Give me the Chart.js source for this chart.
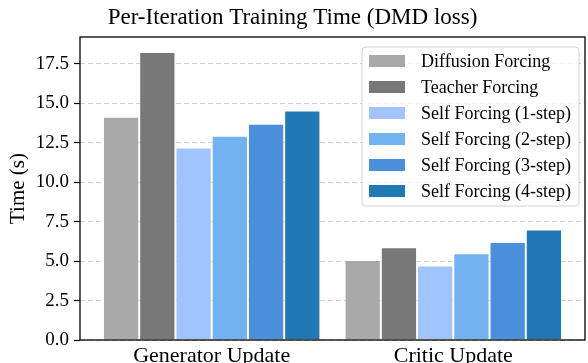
<!DOCTYPE html>
<html>
<head>
<meta charset="utf-8">
<script src="https://cdn.jsdelivr.net/npm/chart.js@4"></script>
<style>
  html, body { margin: 0; padding: 0; background: #fff; overflow: hidden; }
  #wrap { position: relative; width: 588px; height: 380px; }
</style>
</head>
<body>
<div id="wrap"><canvas id="barChart"></canvas></div>
<script>
// categories and series (seconds per iteration)
const categories = ["Generator Update", "Critic Update"];
const seriesNames = [
  "Diffusion Forcing",
  "Teacher Forcing",
  "Self Forcing (1-step)",
  "Self Forcing (2-step)",
  "Self Forcing (3-step)",
  "Self Forcing (4-step)",
];
const diffusionForcing = [14.15, 5.07];
const teacherForcing = [18.25, 5.88];
const selfForcing1 = [12.2, 4.72];
const selfForcing2 = [12.95, 5.5];
const selfForcing3 = [13.7, 6.21];
const selfForcing4 = [14.55, 7.0];
const yTicks = [0, 2.5, 5, 7.5, 10, 12.5, 15, 17.5];

const seriesValues = [diffusionForcing, teacherForcing, selfForcing1, selfForcing2, selfForcing3, selfForcing4];
const colors = ["#a9a9a9", "#787878", "#a1c4fd", "#72b2f1", "#4a8fda", "#2078b4"];
const serif = "'Liberation Serif', 'DejaVu Serif', serif";

// matplotlib-style box + legend drawn inside the plot area
const boxLegend = {
  id: "boxLegend",
  afterDraw(chart) {
    const { ctx, chartArea: a } = chart;
    ctx.save();
    ctx.strokeStyle = "#000";
    ctx.lineWidth = 1.3;
    ctx.strokeRect(a.left, a.top, a.right - a.left, a.bottom - a.top);

    const w = 217, h = 159;
    const x = a.right - 6 - w, y = a.top + 10;
    ctx.beginPath();
    ctx.roundRect(x, y, w, h, 4);
    ctx.fillStyle = "rgba(255,255,255,0.85)";
    ctx.fill();
    ctx.strokeStyle = "rgba(210,210,210,1)";
    ctx.lineWidth = 1;
    ctx.stroke();

    ctx.font = "18px " + serif;
    ctx.textBaseline = "middle";
    chart.data.datasets.forEach((ds, i) => {
      const cy = y + 14 + i * 26;
      ctx.fillStyle = ds.backgroundColor;
      ctx.fillRect(x + 7, cy - 6, 36, 12);
      ctx.fillStyle = "#000";
      ctx.fillText(ds.label, x + 59, cy + 1);
    });
    ctx.restore();
  },
};

new Chart(document.getElementById("barChart"), {
  type: "bar",
  data: {
    datasets: seriesNames.map((name, i) => ({
      label: name,
      data: seriesValues[i].map((v, j) => ({ x: j, y: v })),
      backgroundColor: colors[i],
      borderColor: "rgba(255,255,255,0.45)",
      borderWidth: 1,
      categoryPercentage: 0.9,
      barPercentage: 1.0,
    })),
  },
  options: {
    responsive: true,
    maintainAspectRatio: false,
    animation: false,
    layout: { padding: { left: 0, right: 3, top: 0, bottom: 0 } },
    plugins: {
      legend: { display: false },
      tooltip: { enabled: false },
      title: {
        display: true,
        text: "Per-Iteration Training Time (DMD loss)",
        color: "#000",
        font: { family: serif, size: 23, weight: "normal", lineHeight: 1.2 },
        padding: { top: 4, bottom: 5.4 },
      },
    },
    scales: {
      x: {
        type: "linear",
        offset: false,
        min: -0.545,
        max: 1.545,
        grid: { display: false, drawTicks: false },
        border: { display: false },
        afterBuildTicks: (s) => { s.ticks = categories.map((c, i) => ({ value: i })); },
        afterFit: (s) => { s.height = 380 - 340; },
        ticks: {
          color: "#000",
          font: { family: serif, size: 22 },
          padding: 3,
          maxRotation: 0,
          autoSkip: false,
          callback: (v) => categories[v],
        },
      },
      y: {
        min: 0,
        max: 19.2,
        z: 1,
        afterBuildTicks: (s) => { s.ticks = yTicks.map((v) => ({ value: v })); },
        afterFit: (s) => { s.width = 80; },
        border: { display: false, dash: [5, 3] },
        grid: {
          color: "rgba(200,200,200,0.85)",
          lineWidth: 1,
          drawTicks: true,
          tickLength: 6,
          tickColor: "#000",
          tickWidth: 1.2,
          tickBorderDash: [],
        },
        ticks: {
          color: "#000",
          font: { family: serif, size: 19 },
          padding: 5,
          callback: (v) => v.toFixed(1),
        },
        title: {
          display: true,
          text: "Time (s)",
          color: "#000",
          font: { family: serif, size: 21 },
          padding: { top: 5.5, bottom: 0 },
        },
      },
    },
  },
  plugins: [boxLegend],
});
</script>
</body>
</html>
